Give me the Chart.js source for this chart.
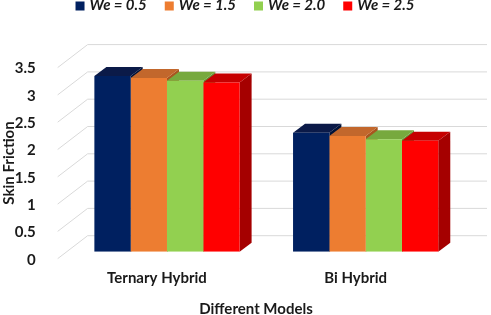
<!DOCTYPE html>
<html>
<head>
<meta charset="utf-8">
<script src="https://cdn.jsdelivr.net/npm/chart.js@4.4.1/dist/chart.umd.min.js"></script>
<style>
  body { margin: 0; background: #fff; }
  #wrap { width: 491px; height: 315px; }
</style>
</head>
<body>
<div id="wrap"><canvas id="skinChart"></canvas></div>
<script>
// data
const categories = ['Ternary Hybrid', 'Bi Hybrid'];
const seriesLabels = ['We = 0.5', 'We = 1.5', 'We = 2.0', 'We = 2.5'];
const we05 = [3.22, 2.18];
const we15 = [3.18, 2.12];
const we20 = [3.13, 2.06];
const we25 = [3.10, 2.03];
const yMax = 3.5;
const yStep = 0.5;

const frontColors = ['#002060', '#ED7D31', '#92D050', '#FF0000'];
const topColors = ['#0b1a48', '#c2672c', '#77a93e', '#c60000'];
const sideColors = ['#001238', '#a9551f', '#659235', '#a50000'];

const FONT = 'Lato, "Open Sans", sans-serif';
const TEXT = '#1a1a1a';
const DX = 12, DY = 9;          // bar depth
const WALL_DX = 30;             // wall depth

// back wall, floor lines, bar tops and sides (fronts come from Chart.js)
const depthPlugin = {
    id: 'depth3d',
    beforeDatasetsDraw(chart) {
        const ctx = chart.ctx;
        const y = chart.scales.y;
        const area = chart.chartArea;
        const fx = area.left - 10;
        const bx = fx + WALL_DX;

        ctx.save();
        ctx.strokeStyle = '#d9d9d9';
        ctx.lineWidth = 1;
        y.ticks.forEach(t => {
            const p = y.getPixelForValue(t.value);
            ctx.beginPath();
            ctx.moveTo(fx, p + 7);
            ctx.lineTo(bx, p - 16);
            ctx.lineTo(area.right + 22, p - 16);
            ctx.stroke();
        });

        const n = chart.data.datasets.length;
        for (let j = 0; j < chart.data.labels.length; j++) {
            for (let i = 0; i < n; i++) {
                const bar = chart.getDatasetMeta(i).data[j];
                const l = bar.x - bar.width / 2, r = bar.x + bar.width / 2;
                const top = bar.y, base = bar.base;

                ctx.fillStyle = sideColors[i];
                ctx.beginPath();
                ctx.moveTo(r, top);
                ctx.lineTo(r + DX, top - DY);
                ctx.lineTo(r + DX, base - DY);
                ctx.lineTo(r, base);
                ctx.closePath();
                ctx.fill();

                ctx.fillStyle = topColors[i];
                ctx.beginPath();
                ctx.moveTo(l, top);
                ctx.lineTo(r, top);
                ctx.lineTo(r + DX, top - DY);
                ctx.lineTo(l + DX, top - DY);
                ctx.closePath();
                ctx.fill();
            }
        }
        ctx.restore();
    },
    afterDraw(chart) {
        const ctx = chart.ctx;
        ctx.save();

        // legend
        ctx.font = 'italic bold 15px ' + FONT;
        ctx.textBaseline = 'middle';
        ctx.textAlign = 'left';
        const sets = chart.data.datasets;
        const widths = sets.map(d => ctx.measureText(d.label).width);
        const total = widths.reduce((a, b) => a + b, 0) + sets.length * 14 + (sets.length - 1) * 18;
        let x = 245 - total / 2;
        sets.forEach((d, i) => {
            ctx.fillStyle = d.backgroundColor;
            ctx.fillRect(x, 1.5, 9, 9);
            ctx.fillStyle = TEXT;
            ctx.fillText(d.label, x + 14, 5.5);
            x += 14 + widths[i] + 18;
        });

        // axis titles
        ctx.fillStyle = TEXT;
        ctx.font = 'bold 15px ' + FONT;
        ctx.textAlign = 'center';
        ctx.fillText('Different Models', 256, 309);
        ctx.translate(9, 163);
        ctx.rotate(-Math.PI / 2);
        ctx.fillText('Skin Friction', 0, 0);
        ctx.restore();
    }
};

const seriesData = [we05, we15, we20, we25];

new Chart(document.getElementById('skinChart'), {
    type: 'bar',
    data: {
        labels: categories,
        datasets: seriesLabels.map((label, i) => ({
            label: label,
            data: seriesData[i],
            backgroundColor: frontColors[i],
            borderWidth: 0,
            barPercentage: 1,
            categoryPercentage: 0.731
        }))
    },
    options: {
        responsive: true,
        maintainAspectRatio: false,
        devicePixelRatio: 1,
        animation: false,
        layout: { padding: { top: 60.6, right: 26, left: 0, bottom: 0 } },
        plugins: {
            legend: { display: false },
            tooltip: { enabled: false }
        },
        scales: {
            x: {
                grid: { display: false },
                border: { display: false },
                ticks: {
                    color: TEXT,
                    font: { family: FONT, size: 15, weight: 'bold' },
                    labelOffset: -10,
                    padding: 9
                },
                afterFit(scale) { scale.height = 63.3; }
            },
            y: {
                min: 0,
                max: yMax,
                grid: { display: false },
                border: { display: false },
                ticks: {
                    stepSize: yStep,
                    color: TEXT,
                    font: { family: FONT, size: 15, weight: 'bold' },
                    labelOffset: 8,
                    padding: 24,
                    callback: v => String(+v.toFixed(1))
                },
                afterFit(scale) { scale.width = 67.65; }
            }
        }
    },
    plugins: [depthPlugin]
});
</script>
</body>
</html>
